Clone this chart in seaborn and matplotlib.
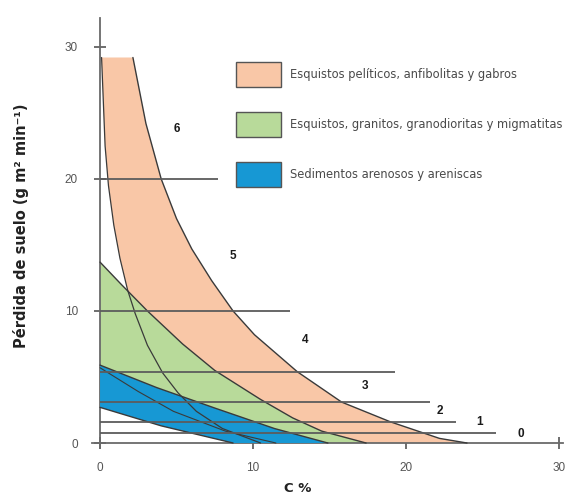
import numpy as np
import pandas as pd
import matplotlib
matplotlib.use("Agg")
import matplotlib.pyplot as plt
from matplotlib.patches import Patch
import seaborn as sns

# Límites de las bandas (C %, pérdida de suelo g m-2 min-1)
pel_left_x = [0.1, 0.33, 0.55, 0.9, 1.3, 1.8, 2.3, 3.1, 4.1, 5.1, 6.3, 8.0, 10.5]
pel_left_y = [29.2, 22.5, 19.5, 16.5, 14.0, 11.6, 9.8, 7.4, 5.3, 3.8, 2.4, 1.1, 0.0]
pel_right_x = [2.15, 3.0, 4.0, 5.0, 6.0, 7.3, 8.7, 10.1, 12.9, 15.8, 19.0, 22.2, 24.0]
pel_right_y = [29.2, 24.2, 20.0, 17.0, 14.7, 12.3, 10.0, 8.2, 5.4, 3.1, 1.6, 0.35, 0.0]

gra_top_x = [0.0, 1.4, 3.1, 5.4, 7.5, 10.5, 12.6, 14.5, 17.4]
gra_top_y = [13.7, 12.0, 10.0, 7.5, 5.5, 3.3, 1.9, 0.9, 0.0]

sed_top_x = [0.0, 3.7, 7.5, 11.4, 14.9]
sed_top_y = [5.9, 4.2, 2.65, 1.1, 0.0]
sed_bot_x = [0.0, 4.0, 8.7]
sed_bot_y = [2.7, 1.3, 0.0]
sed_mid_x = [0.0, 2.5, 4.8, 8.2, 11.5]
sed_mid_y = [5.7, 3.9, 2.4, 0.9, 0.0]

# Límites de clase de erosión
class_y = [20, 10, 5.4, 3.1, 1.56, 0.78]
class_xend = [7.7, 12.4, 19.3, 21.6, 23.3, 25.9]
class_names = ["6", "5", "4", "3", "2", "1", "0"]
class_lx = [5.0, 8.7, 13.4, 17.3, 22.2, 24.8, 27.5]
class_ly = [23.8, 14.2, 7.8, 4.3, 2.4, 1.6, 0.7]

legend_labels = [
    "Esquistos pelíticos, anfibolitas y gabros",
    "Esquistos, granitos, granodioritas y migmatitas",
    "Sedimentos arenosos y areniscas",
]
colors = ["#F9C7A7", "#B8DA9A", "#1798D4"]
edge = "#3a3a3a"
grey = "#5c5c5c"

sns.set_style("white")
plt.rcParams["font.family"] = ["Liberation Sans", "DejaVu Sans"]

fig = plt.figure(figsize=(5.75, 4.97), dpi=100)
ax = fig.add_axes([0.1607, 0.098, 0.819, 0.866])

# Bandas rellenas
ax.fill(pel_left_x + [24.0] + pel_right_x[::-1],
        pel_left_y + [0.0] + pel_right_y[::-1],
        color=colors[0], lw=0, zorder=1)
ax.fill(gra_top_x + sed_top_x[::-1],
        gra_top_y + sed_top_y[::-1],
        color=colors[1], lw=0, zorder=2)
ax.fill(sed_top_x + sed_bot_x[::-1],
        sed_top_y + sed_bot_y[::-1],
        color=colors[2], lw=0, zorder=3)

# Contornos
curves = [
    (pel_left_x, pel_left_y, 0.9),
    (pel_right_x, pel_right_y, 1.0),
    (gra_top_x, gra_top_y, 1.0),
    (sed_top_x, sed_top_y, 1.0),
    (sed_bot_x, sed_bot_y, 1.0),
    (sed_mid_x, sed_mid_y, 0.8),
]
for cx, cy, lw in curves:
    df = pd.DataFrame({"x": cx, "y": cy})
    sns.lineplot(data=df, x="x", y="y", sort=False, estimator=None,
                 color=edge, lw=lw, ax=ax, zorder=4)

# Líneas de clase
for yv, xe in zip(class_y, class_xend):
    ax.plot([0, xe], [yv, yv], color=grey, lw=1.3, zorder=5, solid_capstyle="butt")

for name, lx, ly in zip(class_names, class_lx, class_ly):
    ax.text(lx, ly, name, ha="center", va="center", fontsize=8.5,
            fontweight="bold", color="#1a1a1a", zorder=6)

ax.set_xlim(-0.5, 30.3)
ax.set_ylim(-0.4, 32.2)
ax.set_xticks([0, 10, 20, 30])
ax.set_yticks([0, 10, 20, 30])
for s in ["top", "right"]:
    ax.spines[s].set_visible(False)
for s in ["left", "bottom"]:
    ax.spines[s].set_position(("data", 0))
    ax.spines[s].set_color("#6a6a6a")
    ax.spines[s].set_linewidth(1.3)
ax.spines["bottom"].set_bounds(-0.5, 30.3)
ax.spines["left"].set_bounds(-0.4, 32.2)
ax.tick_params(axis="x", bottom=True, direction="inout", length=8, width=1.2,
               color="#555555", labelsize=8.5, labelcolor="#555555", pad=10)
ax.tick_params(axis="y", left=True, direction="inout", length=8, width=1.2,
               color="#555555", labelsize=8.5, labelcolor="#555555", pad=12)
ax.set_xlabel("")
ax.set_ylabel("")

fig.text(298 / 575, 1 - 488 / 497, "C %", ha="center", va="center",
         fontsize=9.5, fontweight="bold", color="#222222", family="DejaVu Sans")
fig.text(21 / 575, 1 - 226 / 497, "Pérdida de suelo (g m² min⁻¹)", rotation=90,
         ha="center", va="center", fontsize=10.5, fontweight="bold", color="#222222",
         family="DejaVu Sans")

handles = [Patch(facecolor=c, edgecolor="#555555", lw=1.0) for c in colors]
leg = ax.legend(handles, legend_labels, loc="upper left",
                bbox_to_anchor=(236 / 575, 1 - 62 / 497), bbox_transform=fig.transFigure,
                frameon=False, prop={"family": "DejaVu Sans", "size": 8.3},
                handlelength=3.9, handleheight=3.0,
                labelspacing=2.15, handletextpad=0.8, borderaxespad=0, borderpad=0)
for t in leg.get_texts():
    t.set_color("#4a4a4a")

fig.savefig("out.png", dpi=100)
